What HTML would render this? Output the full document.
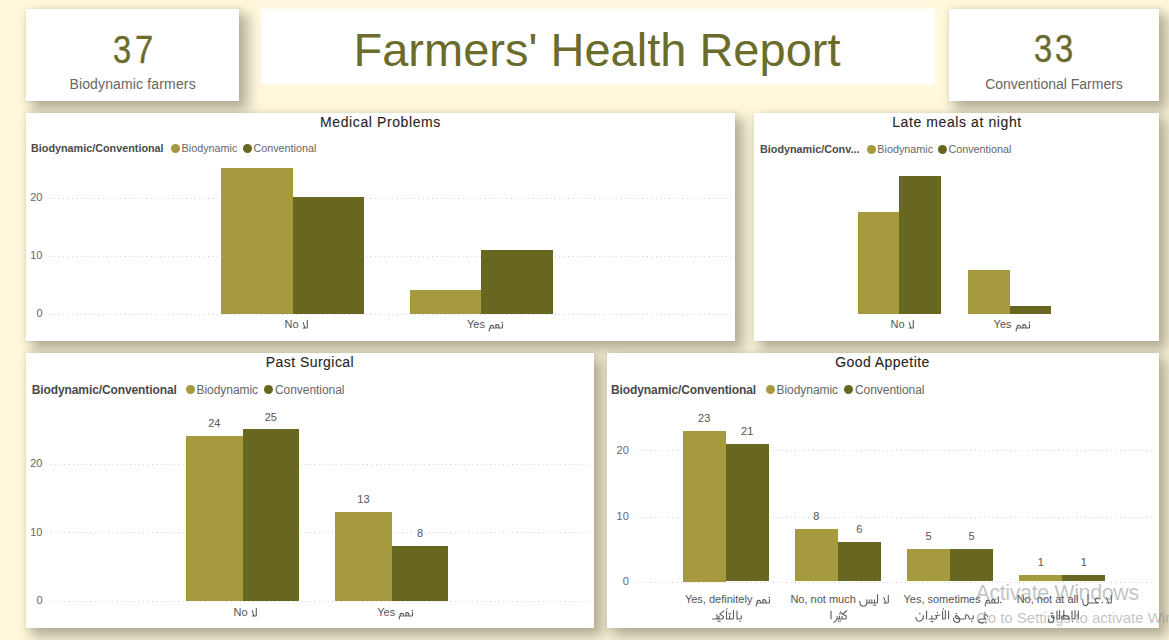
<!DOCTYPE html>
<html><head><meta charset="utf-8"><style>
html,body{margin:0;padding:0}
body{width:1169px;height:640px;background:#FFF8DC;position:relative;overflow:hidden;font-family:"Liberation Sans",sans-serif}
.card{position:absolute;background:#fff;box-shadow:7px 7px 12px 2px rgba(60,62,45,0.38),0 0 3px 1px rgba(120,120,70,0.10)}
.card.ns{box-shadow:0 0 3px 1px rgba(255,255,250,0.7)}
.t{position:absolute;white-space:nowrap}
.r{position:absolute}
.dot{position:absolute;border-radius:50%}
.g{position:absolute;height:1px;background-image:linear-gradient(to right,#c8c8c8 1px,transparent 1px);background-size:4.4px 1px}
</style></head><body>
<div class="card" style="left:26px;top:9px;width:213px;height:92px"></div>
<div class="card ns" style="left:262px;top:9px;width:672px;height:75px"></div>
<div class="card" style="left:949px;top:9px;width:210px;height:92px"></div>
<div class="card" style="left:26px;top:113px;width:709px;height:228px"></div>
<div class="card" style="left:754px;top:113px;width:405px;height:228px"></div>
<div class="card" style="left:26px;top:352.5px;width:568px;height:275.5px"></div>
<div class="card" style="left:607px;top:352.5px;width:552px;height:275.5px"></div>
<div class="t" style="top:30.73px;font-size:38px;line-height:38px;color:#6B6B2B;font-weight:400;left:-278.20px;width:800px;text-align:center;transform:scaleX(0.86);-webkit-text-stroke:0.4px #6B6B2B;">3</div>
<div class="t" style="top:30.73px;font-size:38px;line-height:38px;color:#6B6B2B;font-weight:400;left:-255.60px;width:800px;text-align:center;transform:scaleX(0.86);-webkit-text-stroke:0.4px #6B6B2B;">7</div>
<div class="t" style="top:76.65px;font-size:14px;line-height:14px;color:#666;font-weight:400;letter-spacing:0.15px;left:-267.40px;width:800px;text-align:center;">Biodynamic farmers</div>
<div class="t" style="top:30.43px;font-size:38px;line-height:38px;color:#6B6B2B;font-weight:400;left:643.00px;width:800px;text-align:center;transform:scaleX(0.86);-webkit-text-stroke:0.4px #6B6B2B;">3</div>
<div class="t" style="top:30.43px;font-size:38px;line-height:38px;color:#6B6B2B;font-weight:400;left:663.90px;width:800px;text-align:center;transform:scaleX(0.86);-webkit-text-stroke:0.4px #6B6B2B;">3</div>
<div class="t" style="top:76.75px;font-size:14px;line-height:14px;color:#666;font-weight:400;left:654.00px;width:800px;text-align:center;">Conventional Farmers</div>
<div class="t" style="top:25.91px;font-size:47px;line-height:47px;color:#6B6B2B;font-weight:400;left:197.00px;width:800px;text-align:center;">Farmers' Health Report</div>
<div class="t" style="top:114.75px;font-size:14px;line-height:14px;color:#252423;font-weight:400;letter-spacing:0.6px;left:-19.50px;width:800px;text-align:center;-webkit-text-stroke:0.1px #252423;">Medical Problems</div>
<div class="t" style="top:143.15px;font-size:10.8px;line-height:10.8px;color:#4a4a4a;font-weight:700;left:31.00px;">Biodynamic/Conventional</div>
<div class="dot" style="left:171.00px;top:143.90px;width:9px;height:9px;background:#A69A3F"></div>
<div class="t" style="top:143.15px;font-size:10.8px;line-height:10.8px;color:#666;font-weight:400;left:181.60px;">Biodynamic</div>
<div class="dot" style="left:242.50px;top:143.90px;width:9px;height:9px;background:#676722"></div>
<div class="t" style="top:143.15px;font-size:10.8px;line-height:10.8px;color:#666;font-weight:400;left:253.40px;">Conventional</div>
<div class="g" style="left:50.00px;top:313.50px;width:681.00px"></div>
<div class="t" style="top:307.99px;font-size:11px;line-height:11px;color:#666;font-weight:400;left:-357.50px;width:400px;text-align:right;">0</div>
<div class="g" style="left:50.00px;top:255.50px;width:681.00px"></div>
<div class="t" style="top:249.99px;font-size:11px;line-height:11px;color:#666;font-weight:400;left:-357.50px;width:400px;text-align:right;">10</div>
<div class="g" style="left:50.00px;top:197.50px;width:681.00px"></div>
<div class="t" style="top:191.99px;font-size:11px;line-height:11px;color:#666;font-weight:400;left:-357.50px;width:400px;text-align:right;">20</div>
<div class="r" style="left:221.10px;top:168.30px;width:71.50px;height:145.30px;background:#A69A3F;"></div>
<div class="r" style="left:292.60px;top:197.30px;width:71.50px;height:116.30px;background:#676722;"></div>
<div class="r" style="left:409.70px;top:290.10px;width:71.50px;height:23.50px;background:#A69A3F;"></div>
<div class="r" style="left:481.20px;top:249.50px;width:71.50px;height:64.10px;background:#676722;"></div>
<div class="t" style="top:319.09px;font-size:11px;line-height:11px;color:#555;font-weight:400;left:-104.00px;width:800px;text-align:center;">No <svg width="7" height="9" viewBox="0 -8 7 9" style="vertical-align:-1px;overflow:visible;margin-left:-1px"><path d="M6.3,-7.6 L6.3,-0.8 Q6.3,0 5.5,0 L2.2,0 M2.2,-5.4 L3.8,-0.4" fill="none" stroke="#5a5a5a" stroke-width="1.1" stroke-linecap="round" stroke-linejoin="round"/><g fill="#5a5a5a"></g></svg></div>
<div class="t" style="top:319.09px;font-size:11px;line-height:11px;color:#555;font-weight:400;left:85.00px;width:800px;text-align:center;">Yes <svg width="16" height="9" viewBox="0 -8 16 9" style="vertical-align:-1px;overflow:visible;margin-left:-1px"><path d="M15.5,-3.6 L15.5,-0.7 Q15.5,0 14.8,0 L12.2,0 Q11.9,-3.5 10,-3.4 Q8.3,-3.3 8.7,-1.6 Q9.3,0 11.2,0 M9.2,0 L6.6,0 Q6.5,-2.8 4.6,-2.6 Q2.8,-2.4 3.1,-0.9 Q3.5,0 5.2,0 M3.1,0 Q2.4,0.2 2.3,1 L2.2,3" fill="none" stroke="#5a5a5a" stroke-width="1.1" stroke-linecap="round" stroke-linejoin="round"/><g fill="#5a5a5a"><circle cx="15.2" cy="-5.6" r="0.75"/></g></svg></div>
<div class="t" style="top:114.75px;font-size:14px;line-height:14px;color:#252423;font-weight:400;letter-spacing:0.6px;left:557.00px;width:800px;text-align:center;-webkit-text-stroke:0.1px #252423;">Late meals at night</div>
<div class="t" style="top:143.75px;font-size:10.8px;line-height:10.8px;color:#4a4a4a;font-weight:700;left:760.00px;">Biodynamic/Conv...</div>
<div class="dot" style="left:866.70px;top:144.50px;width:9px;height:9px;background:#A69A3F"></div>
<div class="t" style="top:143.75px;font-size:10.8px;line-height:10.8px;color:#666;font-weight:400;left:877.30px;">Biodynamic</div>
<div class="dot" style="left:937.80px;top:144.50px;width:9px;height:9px;background:#676722"></div>
<div class="t" style="top:143.75px;font-size:10.8px;line-height:10.8px;color:#666;font-weight:400;left:948.40px;">Conventional</div>
<div class="r" style="left:857.70px;top:212.00px;width:41.50px;height:101.60px;background:#A69A3F;"></div>
<div class="r" style="left:899.20px;top:176.00px;width:41.50px;height:137.60px;background:#676722;"></div>
<div class="r" style="left:968.00px;top:270.30px;width:41.50px;height:43.30px;background:#A69A3F;"></div>
<div class="r" style="left:1009.50px;top:306.30px;width:41.50px;height:7.30px;background:#676722;"></div>
<div class="t" style="top:318.89px;font-size:11px;line-height:11px;color:#555;font-weight:400;left:502.00px;width:800px;text-align:center;">No <svg width="7" height="9" viewBox="0 -8 7 9" style="vertical-align:-1px;overflow:visible;margin-left:-1px"><path d="M6.3,-7.6 L6.3,-0.8 Q6.3,0 5.5,0 L2.2,0 M2.2,-5.4 L3.8,-0.4" fill="none" stroke="#5a5a5a" stroke-width="1.1" stroke-linecap="round" stroke-linejoin="round"/><g fill="#5a5a5a"></g></svg></div>
<div class="t" style="top:318.89px;font-size:11px;line-height:11px;color:#555;font-weight:400;left:611.60px;width:800px;text-align:center;">Yes <svg width="16" height="9" viewBox="0 -8 16 9" style="vertical-align:-1px;overflow:visible;margin-left:-1px"><path d="M15.5,-3.6 L15.5,-0.7 Q15.5,0 14.8,0 L12.2,0 Q11.9,-3.5 10,-3.4 Q8.3,-3.3 8.7,-1.6 Q9.3,0 11.2,0 M9.2,0 L6.6,0 Q6.5,-2.8 4.6,-2.6 Q2.8,-2.4 3.1,-0.9 Q3.5,0 5.2,0 M3.1,0 Q2.4,0.2 2.3,1 L2.2,3" fill="none" stroke="#5a5a5a" stroke-width="1.1" stroke-linecap="round" stroke-linejoin="round"/><g fill="#5a5a5a"><circle cx="15.2" cy="-5.6" r="0.75"/></g></svg></div>
<div class="t" style="top:355.15px;font-size:14px;line-height:14px;color:#252423;font-weight:400;letter-spacing:0.45px;left:-90.00px;width:800px;text-align:center;-webkit-text-stroke:0.1px #252423;">Past Surgical</div>
<div class="t" style="top:383.56px;font-size:12px;line-height:12px;color:#4a4a4a;font-weight:700;letter-spacing:-0.1px;left:31.70px;">Biodynamic/Conventional</div>
<div class="dot" style="left:186.30px;top:384.90px;width:9px;height:9px;background:#A69A3F"></div>
<div class="t" style="top:383.56px;font-size:12px;line-height:12px;color:#666;font-weight:400;letter-spacing:-0.05px;left:196.50px;">Biodynamic</div>
<div class="dot" style="left:264.00px;top:384.90px;width:9px;height:9px;background:#676722"></div>
<div class="t" style="top:383.56px;font-size:12px;line-height:12px;color:#666;font-weight:400;letter-spacing:-0.05px;left:275.00px;">Conventional</div>
<div class="g" style="left:51.00px;top:600.60px;width:538.00px"></div>
<div class="t" style="top:595.09px;font-size:11px;line-height:11px;color:#666;font-weight:400;left:-357.50px;width:400px;text-align:right;">0</div>
<div class="g" style="left:51.00px;top:532.30px;width:538.00px"></div>
<div class="t" style="top:526.79px;font-size:11px;line-height:11px;color:#666;font-weight:400;left:-357.50px;width:400px;text-align:right;">10</div>
<div class="g" style="left:51.00px;top:463.60px;width:538.00px"></div>
<div class="t" style="top:458.09px;font-size:11px;line-height:11px;color:#666;font-weight:400;left:-357.50px;width:400px;text-align:right;">20</div>
<div class="r" style="left:186.00px;top:436.20px;width:56.50px;height:164.40px;background:#A69A3F;"></div>
<div class="r" style="left:242.50px;top:429.35px;width:56.50px;height:171.25px;background:#676722;"></div>
<div class="t" style="top:418.49px;font-size:11px;line-height:11px;color:#555;font-weight:400;left:-185.75px;width:800px;text-align:center;">24</div>
<div class="t" style="top:411.64px;font-size:11px;line-height:11px;color:#555;font-weight:400;left:-129.25px;width:800px;text-align:center;">25</div>
<div class="r" style="left:335.20px;top:511.55px;width:56.50px;height:89.05px;background:#A69A3F;"></div>
<div class="r" style="left:391.70px;top:545.80px;width:56.50px;height:54.80px;background:#676722;"></div>
<div class="t" style="top:493.84px;font-size:11px;line-height:11px;color:#555;font-weight:400;left:-36.55px;width:800px;text-align:center;">13</div>
<div class="t" style="top:528.09px;font-size:11px;line-height:11px;color:#555;font-weight:400;left:19.95px;width:800px;text-align:center;">8</div>
<div class="t" style="top:606.69px;font-size:11px;line-height:11px;color:#555;font-weight:400;left:-155.00px;width:800px;text-align:center;">No <svg width="7" height="9" viewBox="0 -8 7 9" style="vertical-align:-1px;overflow:visible;margin-left:-1px"><path d="M6.3,-7.6 L6.3,-0.8 Q6.3,0 5.5,0 L2.2,0 M2.2,-5.4 L3.8,-0.4" fill="none" stroke="#5a5a5a" stroke-width="1.1" stroke-linecap="round" stroke-linejoin="round"/><g fill="#5a5a5a"></g></svg></div>
<div class="t" style="top:606.69px;font-size:11px;line-height:11px;color:#555;font-weight:400;left:-4.80px;width:800px;text-align:center;">Yes <svg width="16" height="9" viewBox="0 -8 16 9" style="vertical-align:-1px;overflow:visible;margin-left:-1px"><path d="M15.5,-3.6 L15.5,-0.7 Q15.5,0 14.8,0 L12.2,0 Q11.9,-3.5 10,-3.4 Q8.3,-3.3 8.7,-1.6 Q9.3,0 11.2,0 M9.2,0 L6.6,0 Q6.5,-2.8 4.6,-2.6 Q2.8,-2.4 3.1,-0.9 Q3.5,0 5.2,0 M3.1,0 Q2.4,0.2 2.3,1 L2.2,3" fill="none" stroke="#5a5a5a" stroke-width="1.1" stroke-linecap="round" stroke-linejoin="round"/><g fill="#5a5a5a"><circle cx="15.2" cy="-5.6" r="0.75"/></g></svg></div>
<div class="t" style="top:355.15px;font-size:14px;line-height:14px;color:#252423;font-weight:400;letter-spacing:0.45px;left:482.50px;width:800px;text-align:center;-webkit-text-stroke:0.1px #252423;">Good Appetite</div>
<div class="t" style="top:383.56px;font-size:12px;line-height:12px;color:#4a4a4a;font-weight:700;letter-spacing:-0.1px;left:611.00px;">Biodynamic/Conventional</div>
<div class="dot" style="left:766.00px;top:384.90px;width:9px;height:9px;background:#A69A3F"></div>
<div class="t" style="top:383.56px;font-size:12px;line-height:12px;color:#666;font-weight:400;letter-spacing:-0.05px;left:776.50px;">Biodynamic</div>
<div class="dot" style="left:844.00px;top:384.90px;width:9px;height:9px;background:#676722"></div>
<div class="t" style="top:383.56px;font-size:12px;line-height:12px;color:#666;font-weight:400;letter-spacing:-0.05px;left:855.00px;">Conventional</div>
<div class="g" style="left:636.70px;top:581.50px;width:518.30px"></div>
<div class="t" style="top:575.99px;font-size:11px;line-height:11px;color:#666;font-weight:400;left:228.80px;width:400px;text-align:right;">0</div>
<div class="g" style="left:636.70px;top:516.80px;width:518.30px"></div>
<div class="t" style="top:511.29px;font-size:11px;line-height:11px;color:#666;font-weight:400;left:228.80px;width:400px;text-align:right;">10</div>
<div class="g" style="left:636.70px;top:450.30px;width:518.30px"></div>
<div class="t" style="top:444.79px;font-size:11px;line-height:11px;color:#666;font-weight:400;left:228.80px;width:400px;text-align:right;">20</div>
<div class="r" style="left:682.70px;top:430.50px;width:43.00px;height:151.00px;background:#A69A3F;"></div>
<div class="r" style="left:725.70px;top:443.63px;width:43.00px;height:137.87px;background:#676722;"></div>
<div class="t" style="top:412.79px;font-size:11px;line-height:11px;color:#555;font-weight:400;left:304.20px;width:800px;text-align:center;">23</div>
<div class="t" style="top:425.92px;font-size:11px;line-height:11px;color:#555;font-weight:400;left:347.20px;width:800px;text-align:center;">21</div>
<div class="r" style="left:794.90px;top:528.98px;width:43.00px;height:52.52px;background:#A69A3F;"></div>
<div class="r" style="left:837.90px;top:542.11px;width:43.00px;height:39.39px;background:#676722;"></div>
<div class="t" style="top:511.27px;font-size:11px;line-height:11px;color:#555;font-weight:400;left:416.40px;width:800px;text-align:center;">8</div>
<div class="t" style="top:524.40px;font-size:11px;line-height:11px;color:#555;font-weight:400;left:459.40px;width:800px;text-align:center;">6</div>
<div class="r" style="left:907.10px;top:548.67px;width:43.00px;height:32.83px;background:#A69A3F;"></div>
<div class="r" style="left:950.10px;top:548.67px;width:43.00px;height:32.83px;background:#676722;"></div>
<div class="t" style="top:530.96px;font-size:11px;line-height:11px;color:#555;font-weight:400;left:528.60px;width:800px;text-align:center;">5</div>
<div class="t" style="top:530.96px;font-size:11px;line-height:11px;color:#555;font-weight:400;left:571.60px;width:800px;text-align:center;">5</div>
<div class="r" style="left:1019.30px;top:574.93px;width:43.00px;height:6.57px;background:#A69A3F;"></div>
<div class="r" style="left:1062.30px;top:574.93px;width:43.00px;height:6.57px;background:#676722;"></div>
<div class="t" style="top:557.22px;font-size:11px;line-height:11px;color:#555;font-weight:400;left:640.80px;width:800px;text-align:center;">1</div>
<div class="t" style="top:557.22px;font-size:11px;line-height:11px;color:#555;font-weight:400;left:683.80px;width:800px;text-align:center;">1</div>
<div class="t" style="top:594.19px;font-size:11px;line-height:11px;color:#555;font-weight:400;left:327.70px;width:800px;text-align:center;">Yes, definitely <svg width="16" height="9" viewBox="0 -8 16 9" style="vertical-align:-1px;overflow:visible;margin-left:-1px"><path d="M15.5,-3.6 L15.5,-0.7 Q15.5,0 14.8,0 L12.2,0 Q11.9,-3.5 10,-3.4 Q8.3,-3.3 8.7,-1.6 Q9.3,0 11.2,0 M9.2,0 L6.6,0 Q6.5,-2.8 4.6,-2.6 Q2.8,-2.4 3.1,-0.9 Q3.5,0 5.2,0 M3.1,0 Q2.4,0.2 2.3,1 L2.2,3" fill="none" stroke="#5a5a5a" stroke-width="1.1" stroke-linecap="round" stroke-linejoin="round"/><g fill="#5a5a5a"><circle cx="15.2" cy="-5.6" r="0.75"/></g></svg></div>
<div class="t" style="top:610.19px;font-size:11px;line-height:11px;color:#555;font-weight:400;left:327.70px;width:800px;text-align:center;"><svg width="30" height="9" viewBox="0 -8 30 9" style="vertical-align:-1px;overflow:visible;margin-left:-1px"><path d="M29.3,-3.2 L29.3,-1 Q29.3,0 28.2,0 L25.6,0 M25,-8 L25,0 M21.5,-8.5 L21.5,-1 Q21.5,0 20.5,0 L15.5,0 M17.6,-3.3 L17.6,0 M14.5,-8 L14.5,0 M11.8,-8.2 L7.8,-4.8 L11.4,-2.6 Q11.4,0 10,0 L4.6,0 M7,-3 L7,0 M4.6,-4.2 Q5.6,-2 5.2,-0.6 Q4.8,0 3.8,0 L0.6,0" fill="none" stroke="#5a5a5a" stroke-width="1.1" stroke-linecap="round" stroke-linejoin="round"/><g fill="#5a5a5a"><circle cx="28" cy="2.3" r="0.75"/><circle cx="17" cy="-5.2" r="0.75"/><circle cx="18.6" cy="-5.2" r="0.75"/><circle cx="14.9" cy="-10" r="0.75"/><circle cx="6.3" cy="2.3" r="0.75"/><circle cx="7.9" cy="2.3" r="0.75"/></g></svg></div>
<div class="t" style="top:594.19px;font-size:11px;line-height:11px;color:#555;font-weight:400;left:439.90px;width:800px;text-align:center;">No, not much <svg width="30" height="9" viewBox="0 -8 30 9" style="vertical-align:-1px;overflow:visible;margin-left:0.5px"><path d="M29.3,-7.6 L29.3,-0.8 Q29.3,0 28.5,0 L24.8,0 M24.8,-5.4 L26.6,-0.4 M18.5,-8.5 L18.5,-1 Q18.5,0 17.5,0 L7.8,0 M15.5,-3.2 L15.5,0 M12.8,-3.2 L12.8,0 M10.3,-3.2 L10.3,0 M7.8,-3.2 L7.8,0 Q7.8,3.2 4.3,3.2 Q0.8,3.2 0.8,-1.6" fill="none" stroke="#5a5a5a" stroke-width="1.1" stroke-linecap="round" stroke-linejoin="round"/><g fill="#5a5a5a"><circle cx="15" cy="2.3" r="0.75"/><circle cx="16.3" cy="2.3" r="0.75"/></g></svg></div>
<div class="t" style="top:610.19px;font-size:11px;line-height:11px;color:#555;font-weight:400;left:439.90px;width:800px;text-align:center;"><svg width="18" height="9" viewBox="0 -8 18 9" style="vertical-align:-1px;overflow:visible;margin-left:-1px"><path d="M1,-8 L1,0 M16.8,-8.2 L12.6,-5 L16.2,-3 Q16.6,0 15,0 L7.2,0 M12,-3 L12,0 M9.4,-3 L9.4,0 M7.2,-2.4 Q7.4,1.8 3.8,3.2" fill="none" stroke="#5a5a5a" stroke-width="1.1" stroke-linecap="round" stroke-linejoin="round"/><g fill="#5a5a5a"><circle cx="9.9" cy="-5.4" r="0.75"/><circle cx="11.5" cy="-5.4" r="0.75"/><circle cx="10.7" cy="-6.9" r="0.75"/><circle cx="8.6" cy="2.3" r="0.75"/><circle cx="10.2" cy="2.3" r="0.75"/></g></svg></div>
<div class="t" style="top:594.19px;font-size:11px;line-height:11px;color:#555;font-weight:400;left:552.10px;width:800px;text-align:center;">Yes, sometimes <svg width="18" height="9" viewBox="0 -8 18 9" style="vertical-align:-1px;overflow:visible;margin-left:-1px"><path d="M15.5,-3.6 L15.5,-0.7 Q15.5,0 14.8,0 L12.2,0 Q11.9,-3.5 10,-3.4 Q8.3,-3.3 8.7,-1.6 Q9.3,0 11.2,0 M9.2,0 L6.6,0 Q6.5,-2.8 4.6,-2.6 Q2.8,-2.4 3.1,-0.9 Q3.5,0 5.2,0 M3.1,0 Q2.4,0.2 2.3,1 L2.2,3" fill="none" stroke="#5a5a5a" stroke-width="1.1" stroke-linecap="round" stroke-linejoin="round"/><g fill="#5a5a5a"><circle cx="15.2" cy="-5.6" r="0.75"/><circle cx="17.6" cy="-0.6" r="0.75"/></g></svg></div>
<div class="t" style="top:610.19px;font-size:11px;line-height:11px;color:#555;font-weight:400;left:552.10px;width:800px;text-align:center;"><svg width="73" height="9" viewBox="0 -8 73 9" style="vertical-align:-1px;overflow:visible;margin-left:-1px"><path d="M72.5,-2.2 Q72.2,-5 69.8,-4.2 Q68.4,-3.4 69.6,-1.4 L70.6,0 L66,0 Q62.8,0.6 63.4,2.8 Q64.4,4.4 68.6,3.6 M58.2,-3.2 L58.2,-1 Q58.2,0 57.2,0 L54.4,0 Q53.4,-4.4 51.4,-4.2 Q49.8,-3.8 50.8,-1.8 Q51.4,-0.2 49,0 L44.6,0 Q43.2,-3.6 40.8,-3.4 Q39.4,-2.4 41.4,-0.6 L44.6,0 L44.6,2.2 M44.8,0 Q44.8,3.4 41.6,3.4 Q38.2,3.2 38.6,-0.8 M33.6,-8 L33.6,0 M30.4,-8.5 L30.4,-1 Q30.4,0 29.4,0 L27.6,0 M27.6,-8 L27.6,0 M24.8,-4 L20.2,-3.2 Q23.4,-2.4 20.6,0 L14,0 M16.8,-3.2 L16.8,0 M11.6,-8 L11.6,0 M8.2,-3.4 Q9,1 4.8,2.2 Q0.8,2.6 1,-1.8" fill="none" stroke="#5a5a5a" stroke-width="1.1" stroke-linecap="round" stroke-linejoin="round"/><g fill="#5a5a5a"><circle cx="69.9" cy="-6.2" r="0.75"/><circle cx="70.9" cy="3.8" r="0.75"/><circle cx="56.8" cy="2.4" r="0.75"/><circle cx="41.4" cy="-5.6" r="0.75"/><circle cx="28.4" cy="-10" r="0.75"/><circle cx="22.4" cy="-6.2" r="0.75"/><circle cx="16.2" cy="2.4" r="0.75"/><circle cx="17.8" cy="2.4" r="0.75"/><circle cx="4.8" cy="-5.6" r="0.75"/></g></svg></div>
<div class="t" style="top:594.19px;font-size:11px;line-height:11px;color:#555;font-weight:400;left:664.30px;width:800px;text-align:center;">No, not at all <svg width="30" height="9" viewBox="0 -8 30 9" style="vertical-align:-1px;overflow:visible;margin-left:0.5px"><path d="M0.8,-3.4 Q0.5,2.6 3.3,2.6 Q5.9,2.6 6,0 L6,-8.5 M6,0 L16.5,0 M17,-4.4 Q13.6,-5.8 13.2,-3.4 Q13,-1 16.5,0 M29.3,-7.6 L29.3,-0.8 Q29.3,0 28.5,0 L24.6,0 M24.6,-5.4 L26.4,-0.4" fill="none" stroke="#5a5a5a" stroke-width="1.1" stroke-linecap="round" stroke-linejoin="round"/><g fill="#5a5a5a"><circle cx="20.3" cy="-0.6" r="0.75"/></g></svg></div>
<div class="t" style="top:610.19px;font-size:11px;line-height:11px;color:#555;font-weight:400;left:664.30px;width:800px;text-align:center;"><svg width="31" height="9" viewBox="0 -8 31 9" style="vertical-align:-1px;overflow:visible;margin-left:-1px"><path d="M30.3,-8 L30.3,0 M27,-8.5 L27,-1 Q27,0 26,0 L24,0 M24,-8 L24,0 M21.4,0 L13.6,0 Q13.6,-4 17.8,-3.4 Q20.4,-3 21.4,0 M15.8,-8.4 L15.8,-1 M11.6,-8.5 L11.6,0 L10,0 M9,-8 L9,0 M6.4,-1.2 Q5,-4.4 3.6,-2.8 Q3,-1.2 5.4,-1.2 Q6.6,3.6 2.6,3.6 Q0.2,3.2 0.6,0" fill="none" stroke="#5a5a5a" stroke-width="1.1" stroke-linecap="round" stroke-linejoin="round"/><g fill="#5a5a5a"><circle cx="24.5" cy="2.6" r="0.75"/><circle cx="3.2" cy="-5.8" r="0.75"/><circle cx="4.8" cy="-5.8" r="0.75"/></g></svg></div>
<div class="t" style="top:582.80px;font-size:21.5px;line-height:21.5px;color:rgba(120,120,120,0.45);font-weight:400;letter-spacing:-0.4px;left:975.50px;">Activate Windows</div>
<div class="t" style="top:610.30px;font-size:15px;line-height:15px;color:rgba(120,120,120,0.45);font-weight:400;left:976.00px;">Go to Settings to activate Windows.</div>
</body></html>
